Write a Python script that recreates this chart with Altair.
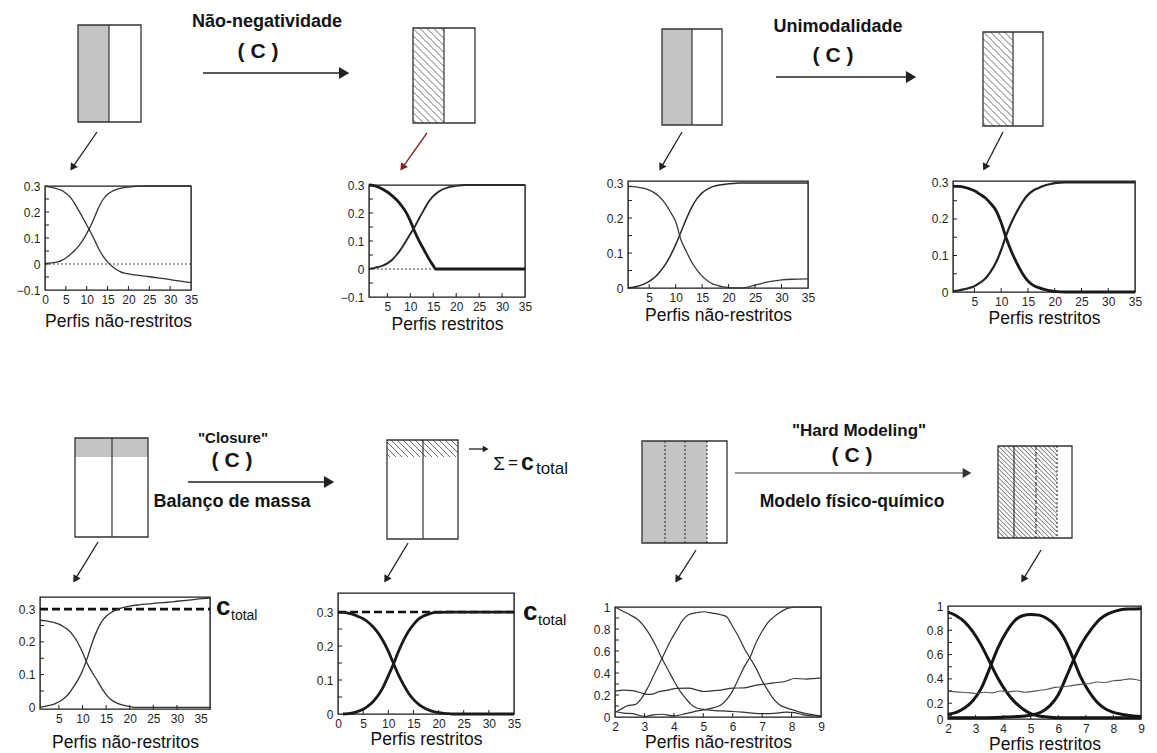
import math
import altair as alt
import pandas as pd

FONT = "Liberation Sans"
INK = "#1f1f1f"

# ------------------------------------------------------------------
# Curve values
# ------------------------------------------------------------------
# Panel 1 - non-negativity, unconstrained
p1_x = [0, 1, 2, 3, 4, 5, 6, 7, 8, 9, 10, 11, 12, 13, 14, 15, 16, 17, 18, 19, 20, 22, 24, 26, 28, 30, 32, 35]
p1_dec = [0.300, 0.297, 0.293, 0.289, 0.283, 0.272, 0.258, 0.235, 0.208, 0.180, 0.150, 0.120, 0.088, 0.055,
          0.028, 0.008, -0.008, -0.020, -0.029, -0.035, -0.038, -0.043, -0.047, -0.051, -0.055, -0.060, -0.065, -0.072]
p1_inc = [0.002, 0.003, 0.005, 0.008, 0.014, 0.023, 0.036, 0.050, 0.068, 0.090, 0.117, 0.148, 0.185, 0.222,
          0.250, 0.268, 0.279, 0.286, 0.291, 0.294, 0.296, 0.299, 0.300, 0.300, 0.300, 0.300, 0.300, 0.300]

# Panel 2 - non-negativity, constrained
p2_x_dec = [1, 2, 3, 4, 5, 6, 7, 8, 9, 10, 11, 12, 13, 14, 15, 15.5, 16, 20, 25, 30, 35]
p2_dec = [0.300, 0.298, 0.293, 0.285, 0.275, 0.262, 0.247, 0.228, 0.205, 0.172, 0.132, 0.098, 0.068, 0.038,
          0.012, 0.0, 0.0, 0.0, 0.0, 0.0, 0.0]
p2_x_inc = [1, 2, 3, 4, 5, 6, 7, 8, 9, 10, 11, 12, 13, 14, 15, 16, 17, 18, 19, 20, 22, 25, 30, 35]
p2_inc = [0.000, 0.003, 0.007, 0.012, 0.020, 0.032, 0.050, 0.072, 0.098, 0.125, 0.152, 0.183, 0.212, 0.240,
          0.260, 0.274, 0.284, 0.290, 0.294, 0.297, 0.300, 0.300, 0.300, 0.300]

# Panel 3 - unimodality, unconstrained
p3_x = [1, 2, 3, 4, 5, 6, 7, 8, 9, 10, 11, 12, 13, 14, 15, 16, 17, 18, 19, 20, 21, 22, 23, 24, 25, 26, 27, 28,
        29, 30, 32, 35]
p3_dec = [0.291, 0.290, 0.288, 0.285, 0.280, 0.272, 0.260, 0.242, 0.218, 0.190, 0.138, 0.105, 0.075, 0.052,
          0.034, 0.021, 0.012, 0.007, 0.003, 0.001, 0.0, 0.0, 0.001, 0.004, 0.008, 0.012, 0.016, 0.019, 0.021,
          0.023, 0.025, 0.026]
p3_inc = [0.000, 0.002, 0.006, 0.011, 0.019, 0.030, 0.046, 0.066, 0.092, 0.124, 0.160, 0.197, 0.230, 0.255,
          0.272, 0.283, 0.290, 0.294, 0.296, 0.298, 0.299, 0.300, 0.300, 0.300, 0.300, 0.300, 0.300, 0.300,
          0.300, 0.300, 0.300, 0.300]

# Panel 4 - unimodality, constrained
p4_x = [1, 2, 3, 4, 5, 6, 7, 8, 9, 10, 11, 12, 13, 14, 15, 16, 17, 18, 19, 20, 22, 25, 30, 35]
p4_dec = [0.290, 0.289, 0.287, 0.283, 0.277, 0.268, 0.258, 0.243, 0.224, 0.190, 0.145, 0.108, 0.077, 0.050,
          0.030, 0.018, 0.012, 0.007, 0.004, 0.002, 0.0, 0.0, 0.0, 0.0]
p4_inc = [0.002, 0.004, 0.007, 0.011, 0.016, 0.025, 0.036, 0.055, 0.080, 0.115, 0.158, 0.193, 0.222, 0.247,
          0.266, 0.278, 0.285, 0.291, 0.295, 0.298, 0.300, 0.300, 0.300, 0.300]

# Panel 5 - closure, unconstrained
p5_x_dec = [1, 2, 3, 4, 5, 6, 7, 8, 9, 10, 11, 12, 13, 14, 15, 16, 17, 18, 19, 20, 21, 25, 30, 35, 37]
p5_dec = [0.266, 0.265, 0.262, 0.259, 0.254, 0.246, 0.236, 0.220, 0.198, 0.168, 0.134, 0.108, 0.085, 0.060,
          0.039, 0.024, 0.015, 0.009, 0.005, 0.002, 0.0, 0.0, 0.0, 0.0, 0.0]
p5_x_inc = [1, 2, 3, 4, 5, 6, 7, 8, 9, 10, 11, 12, 13, 14, 15, 16, 17, 18, 19, 20, 22, 24, 26, 28, 30, 32, 34,
            36, 37]
p5_inc = [0.000, 0.003, 0.006, 0.010, 0.017, 0.026, 0.040, 0.060, 0.083, 0.112, 0.150, 0.195, 0.232, 0.260,
          0.278, 0.289, 0.297, 0.302, 0.306, 0.309, 0.313, 0.316, 0.319, 0.321, 0.324, 0.327, 0.330, 0.333, 0.334]

# Panel 6 - closure, constrained
p6_x_dec = [0, 1, 2, 3, 4, 5, 6, 7, 8, 9, 10, 11, 12, 13, 14, 15, 16, 17, 18, 19, 20, 21, 22, 23, 25, 30, 35]
p6_dec = [0.300, 0.299, 0.297, 0.293, 0.287, 0.280, 0.270, 0.256, 0.238, 0.214, 0.185, 0.150, 0.116, 0.087,
          0.062, 0.043, 0.029, 0.019, 0.012, 0.007, 0.004, 0.002, 0.001, 0.0, 0.0, 0.0, 0.0]
p6_x_inc = [1, 2, 3, 4, 5, 6, 7, 8, 9, 10, 11, 12, 13, 14, 15, 16, 17, 18, 19, 20, 22, 25, 30, 35]
p6_inc = [0.000, 0.001, 0.003, 0.008, 0.014, 0.024, 0.037, 0.055, 0.080, 0.112, 0.146, 0.183, 0.216, 0.243,
          0.263, 0.279, 0.288, 0.294, 0.298, 0.299, 0.300, 0.300, 0.300, 0.300]

# Panel 7 - hard modelling, unconstrained
p7_a_x = [2.0, 2.2, 2.5, 2.8, 3.0, 3.2, 3.4, 3.6, 3.8, 4.0, 4.2, 4.4, 4.6, 4.8, 5.0, 5.3, 5.6, 6.0, 6.5, 7.0,
          7.5, 7.8, 8.1, 8.4, 8.7, 9.0]
p7_a_y = [1.00, 0.97, 0.93, 0.88, 0.82, 0.74, 0.64, 0.53, 0.43, 0.33, 0.24, 0.17, 0.11, 0.08, 0.07, 0.06,
          0.055, 0.05, 0.04, 0.03, 0.035, 0.045, 0.04, 0.02, 0.01, 0.005]
p7_b_x = [2.0, 2.2, 2.4, 2.7, 2.9, 3.1, 3.3, 3.5, 3.7, 3.9, 4.1, 4.3, 4.5, 4.8, 5.0, 5.3, 5.6, 5.8, 6.0, 6.2,
          6.4, 6.6, 6.8, 7.0, 7.2, 7.4, 7.6, 7.8, 8.1, 8.5, 9.0]
p7_b_y = [0.04, 0.07, 0.10, 0.115, 0.17, 0.26, 0.37, 0.48, 0.59, 0.70, 0.79, 0.88, 0.93, 0.95, 0.957, 0.945,
          0.93, 0.91, 0.82, 0.73, 0.62, 0.53, 0.44, 0.33, 0.24, 0.16, 0.11, 0.085, 0.06, 0.03, 0.01]
p7_c_x = [2.0, 2.3, 2.6, 3.0, 3.3, 3.6, 4.0, 4.4, 4.8, 5.2, 5.6, 5.8, 6.0, 6.2, 6.4, 6.6, 6.8, 7.0, 7.2, 7.4,
          7.6, 7.9, 8.2, 8.6, 9.0]
p7_c_y = [0.05, 0.035, 0.03, 0.005, 0.02, 0.025, 0.01, 0.03, 0.055, 0.075, 0.11, 0.16, 0.24, 0.35, 0.46, 0.55,
          0.68, 0.78, 0.86, 0.91, 0.95, 0.99, 1.0, 1.0, 1.0]
p7_d_x = [2.0, 2.3, 2.6, 3.0, 3.2, 3.5, 3.8, 4.1, 4.5, 4.8, 5.0, 5.3, 5.6, 6.0, 6.4, 6.8, 7.1, 7.4, 7.8, 8.1,
          8.5, 9.0]
p7_d_y = [0.235, 0.245, 0.24, 0.21, 0.205, 0.23, 0.245, 0.26, 0.262, 0.245, 0.232, 0.238, 0.245, 0.262, 0.265,
          0.29, 0.30, 0.31, 0.325, 0.35, 0.345, 0.355]

# Panel 8 - hard modelling, constrained
p8_a_x = [2.0, 2.3, 2.6, 2.9, 3.2, 3.5, 3.8, 4.1, 4.4, 4.7, 5.0, 5.3, 5.7, 6.2, 7.0, 8.0, 9.0]
p8_a_y = [0.95, 0.92, 0.87, 0.79, 0.68, 0.545, 0.41, 0.30, 0.215, 0.155, 0.115, 0.095, 0.085, 0.08, 0.08,
          0.08, 0.08]
p8_b_x = [2.0, 2.3, 2.6, 2.9, 3.2, 3.5, 3.8, 4.1, 4.4, 4.7, 5.0, 5.3, 5.6, 5.9, 6.2, 6.5, 6.8, 7.1, 7.4, 7.7,
          8.0, 8.4, 9.0]
p8_b_y = [0.11, 0.125, 0.16, 0.22, 0.32, 0.48, 0.65, 0.78, 0.875, 0.92, 0.93, 0.925, 0.895, 0.84, 0.74, 0.59,
          0.42, 0.30, 0.21, 0.155, 0.125, 0.105, 0.09]
p8_c_x = [2.0, 3.0, 4.0, 4.5, 4.8, 5.1, 5.4, 5.7, 6.0, 6.3, 6.6, 6.9, 7.2, 7.5, 7.8, 8.1, 8.5, 9.0]
p8_c_y = [0.08, 0.08, 0.085, 0.09, 0.095, 0.105, 0.13, 0.18, 0.27, 0.42, 0.58, 0.71, 0.81, 0.89, 0.935, 0.96,
          0.975, 0.978]
p8_d_x = [2.0, 2.2, 2.5, 2.8, 3.0, 3.3, 3.6, 3.9, 4.2, 4.5, 4.8, 5.0, 5.3, 5.6, 5.9, 6.2, 6.5, 6.8, 7.1, 7.4,
          7.7, 8.0, 8.3, 8.6, 8.8, 9.0]
p8_d_y = [0.30, 0.295, 0.29, 0.285, 0.28, 0.29, 0.285, 0.30, 0.295, 0.30, 0.29, 0.295, 0.305, 0.315, 0.33,
          0.335, 0.345, 0.355, 0.36, 0.375, 0.37, 0.385, 0.39, 0.40, 0.395, 0.385]

# reference level (c_total)
c_total = 0.3

# ------------------------------------------------------------------
# Axis tick values / labels
# ------------------------------------------------------------------
xt_0_35 = [0, 5, 10, 15, 20, 25, 30, 35]
xt_5_35 = [5, 10, 15, 20, 25, 30, 35]
xt_2_9 = [2, 3, 4, 5, 6, 7, 8, 9]
yt_neg = [-0.1, 0, 0.1, 0.2, 0.3]
yt_pos = [0, 0.1, 0.2, 0.3]
yt_unit = [0, 0.2, 0.4, 0.6, 0.8, 1]
yt_unit8 = [0.07, 0.2, 0.4, 0.6, 0.8, 1]
in_y_neg = [-0.05, 0, 0.05, 0.1, 0.15, 0.2, 0.25]
in_y_pos = [0.05, 0.1, 0.15, 0.2, 0.25]
in_y_unit = [0.1, 0.2, 0.3, 0.4, 0.5, 0.6, 0.7, 0.8, 0.9]
in_x_35 = [5, 10, 15, 20, 25, 30]
in_x_9 = [3, 4, 5, 6, 7, 8]

TITLE_U = "Perfis não-restritos"
TITLE_C = "Perfis restritos"

# ------------------------------------------------------------------
# Layout (pixels): f = frame top below the row top, L/R = room left/right of frame
# ------------------------------------------------------------------
T_BOX = 6
ROW_TOP_H = 164
ROW_BOT_H = 166

panels_top = [
    dict(L=35, w=146, R=86, f=12, h=104, xdom=[0, 35], ydom=[-0.1, 0.3], xv=xt_0_35, yv=yt_neg,
         title=TITLE_U, tp=7.5, iny=in_y_neg, inx=in_x_35,
         series=[("a", p1_x, p1_dec, 1.3, "#333333"), ("b", p1_x, p1_inc, 1.3, "#333333")],
         dotted=[(0, 35, 0.0)]),
    dict(L=90, w=156, R=62, f=11, h=112, xdom=[1, 35], ydom=[-0.1, 0.3], xv=xt_5_35, yv=yt_neg,
         title=TITLE_C, tp=3.5, iny=in_y_neg, inx=in_x_35,
         series=[("a", p2_x_dec, p2_dec, 2.8, "#1a1a1a"), ("b", p2_x_inc, p2_inc, 1.9, "#2a2a2a")],
         dotted=[(1, 15, 0.0)]),
    dict(L=39, w=180, R=104, f=7, h=107, xdom=[1, 35], ydom=[0, 0.306], xv=xt_5_35, yv=yt_pos,
         title=TITLE_U, tp=3.5, iny=in_y_pos, inx=in_x_35,
         series=[("a", p3_x, p3_dec, 1.3, "#3a3a3a"), ("b", p3_x, p3_inc, 1.5, "#2a2a2a")]),
    dict(L=39, w=182, R=7, f=7, h=111, xdom=[1, 35], ydom=[0, 0.304], xv=xt_5_35, yv=yt_pos,
         title=TITLE_C, tp=2, iny=in_y_pos, inx=in_x_35,
         series=[("a", p4_x, p4_dec, 2.8, "#1a1a1a"), ("b", p4_x, p4_inc, 2.2, "#222222")]),
]

panels_bot = [
    dict(L=30, w=170, R=78, f=11, h=112, xdom=[1, 37], ydom=[-0.005, 0.337], xv=xt_5_35, yv=yt_pos,
         title=TITLE_U, tp=9, iny=in_y_pos, inx=in_x_35,
         series=[("a", p5_x_dec, p5_dec, 1.3, "#333333"), ("b", p5_x_inc, p5_inc, 1.3, "#333333")],
         dashed=[(1, 37, c_total)], ctot=dict(dx_c=6, dx_t=21, dy_c=6, dy_t=11, fc=26, ft=14)),
    dict(L=48, w=176, R=68, f=7, h=121, xdom=[0, 35], ydom=[0, 0.356], xv=xt_0_35, yv=yt_pos,
         title=TITLE_C, tp=1.5, iny=in_y_pos, inx=in_x_35,
         series=[("a", p6_x_dec, p6_dec, 2.8, "#1a1a1a"), ("b", p6_x_inc, p6_inc, 2.8, "#1a1a1a")],
         dashed=[(0, 35, c_total)], ctot=dict(dx_c=9, dx_t=24, dy_c=8, dy_t=13, fc=26, ft=15)),
    dict(L=31, w=206, R=100, f=21, h=110, xdom=[2, 9], ydom=[0, 1], xv=xt_2_9, yv=yt_unit,
         title=TITLE_U, tp=1, iny=in_y_unit, inx=in_x_9,
         series=[("a", p7_a_x, p7_a_y, 1.2, "#333333"), ("b", p7_b_x, p7_b_y, 1.2, "#333333"),
                 ("c", p7_c_x, p7_c_y, 1.2, "#333333"), ("d", p7_d_x, p7_d_y, 1.2, "#333333")]),
    dict(L=25, w=193, R=4, f=20, h=113, xdom=[2, 9], ydom=[0.07, 1], xv=xt_2_9, yv=yt_unit8,
         title=TITLE_C, tp=1, iny=in_y_unit, inx=in_x_9,
         labelExpr="datum.value < 0.1 ? '0' : format(datum.value, '.1~f')",
         series=[("a", p8_a_x, p8_a_y, 3.0, "#151515"), ("b", p8_b_x, p8_b_y, 3.0, "#151515"),
                 ("c", p8_c_x, p8_c_y, 3.0, "#151515"), ("d", p8_d_x, p8_d_y, 1.1, "#555555")]),
]

# ------------------------------------------------------------------
# Schematic diagrams (page pixel coordinates)
# ------------------------------------------------------------------
top_y = (8, 173)
top_boxes = [(78, 25, 141, 122), (413, 28, 475, 123), (662, 29, 722, 125), (983, 32, 1043, 126)]
top_gray = [(78, 25, 109, 122), (662, 29, 692, 125)]
top_hatch = [(413, 28, 444, 123, 7), (983, 32, 1013, 126, 7)]
top_solid = [(109, 25, 109, 122), (444, 28, 444, 123), (692, 29, 692, 125), (1013, 32, 1013, 126)]
top_dotted = []
top_dashed = []
top_arrows = [
    (203, 73, 350, 73, 1.6, "#222222", 140),
    (776, 77, 917, 77, 1.6, "#222222", 140),
    (97, 132, 70, 171, 1.3, "#222222", 70),
    (427, 133, 400, 171, 1.3, "#7a2626", 70),
    (682, 132, 659, 171, 1.3, "#222222", 70),
    (1003, 132, 983, 171, 1.3, "#222222", 70),
]
top_bold = [("Não-negatividade", 267, 27, 18), ("( C )", 258, 58, 21),
            ("Unimodalidade", 838, 32, 18), ("( C )", 833, 62, 21)]
top_norm = []

bot_y = (339, 585)
bot_boxes = [(75, 438, 148, 537), (387, 440, 458, 539), (642, 441, 727, 543), (998, 446, 1072, 538)]
bot_gray = [(75, 438, 148, 457), (642, 441, 707, 543)]
bot_hatch = [(387, 440, 458, 457, 6), (998, 446, 1057, 538, 4.5)]
bot_solid = [(112, 438, 112, 537), (423, 440, 423, 539), (1014, 446, 1014, 538)]
bot_dotted = [(665, 441, 665, 543), (685, 441, 685, 543), (707, 441, 707, 543), (1057, 446, 1057, 538)]
bot_dashed = [(1036, 446, 1036, 538)]
bot_arrows = [
    (188, 482, 335, 482, 1.6, "#222222", 140),
    (735, 473, 972, 473, 1.0, "#333333", 100),
    (469, 449, 489, 449, 1.3, "#222222", 45),
    (98, 542, 73, 583, 1.3, "#222222", 70),
    (408, 543, 384, 583, 1.3, "#222222", 70),
    (696, 550, 675, 583, 1.3, "#222222", 70),
    (1041, 550, 1021, 583, 1.3, "#222222", 70),
]
bot_bold = [('"Closure"', 233, 443, 15), ("( C )", 232, 467, 21), ("Balanço de massa", 232, 507, 18),
            ('"Hard Modeling"', 859, 436, 17), ("( C )", 852, 462, 21),
            ("Modelo físico-químico", 852, 507, 17.5), ("c", 527.5, 470, 23)]
bot_norm = [("Σ", 499, 470, 19), ("=", 513, 468, 17), ("total", 552, 474, 17)]

PAGE_X = (8, 1149)
NO_FRAME = alt.ViewBackground(stroke="transparent", strokeWidth=0)


# ------------------------------------------------------------------
def hatch_lines(x0, y0, x1, y1, step):
    out = []
    c = x0 - y1 + step / 2.0
    while c < x1 - y0:
        ya = max(y0, x0 - c)
        yb = min(y1, x1 - c)
        if yb > ya:
            out.append({"x": c + ya, "y": ya, "x2": c + yb, "y2": yb, "w": 0.8, "c": "#444444"})
        c += step
    return out


def arrow_parts(arrows):
    segs, heads = [], []
    for (x0, y0, x1, y1, w, col, hs) in arrows:
        dx, dy = x1 - x0, y1 - y0
        ln = math.hypot(dx, dy)
        ux, uy = dx / ln, dy / ln
        s = math.sqrt(hs) / 2.0
        hx, hy = x1 - s * ux, y1 - s * uy
        segs.append({"x": x0, "y": y0, "x2": hx, "y2": hy, "w": w, "c": col})
        heads.append({"x": hx, "y": hy, "a": math.degrees(math.atan2(dy, dx)) % 360, "s": hs, "c": col})
    return segs, heads


def spacer(wd, ht):
    return (alt.Chart(pd.DataFrame({"k": [0]}))
            .mark_rect(fill="transparent")
            .encode(x=alt.value(0), x2=alt.value(wd), y=alt.value(0), y2=alt.value(ht))
            .properties(width=wd, height=ht, view=NO_FRAME))


def diagram(yr, boxes, grays, hatches, solid, dotted, dashed, arrows, bold, norm):
    xs = alt.Scale(domain=list(PAGE_X), nice=False, zero=False)
    ys = alt.Scale(domain=list(yr), nice=False, zero=False, reverse=True)
    X = alt.X("x:Q", scale=xs, axis=None)
    Y = alt.Y("y:Q", scale=ys, axis=None)

    def rect_df(rs):
        return pd.DataFrame([{"x": r[0], "y": r[1], "x2": r[2], "y2": r[3]} for r in rs])

    def rule_df(rs, w=1.2, col="#333333"):
        return pd.DataFrame([{"x": r[0], "y": r[1], "x2": r[2], "y2": r[3], "w": w, "c": col} for r in rs])

    def rules(df, **kw):
        return alt.Chart(df).mark_rule(strokeCap="butt", **kw).encode(
            x=X, y=Y, x2="x2:Q", y2="y2:Q",
            color=alt.Color("c:N", scale=None),
            strokeWidth=alt.StrokeWidth("w:Q", scale=None))

    layers = [
        alt.Chart(rect_df(boxes)).mark_rect(fill="white").encode(x=X, y=Y, x2="x2:Q", y2="y2:Q"),
        alt.Chart(rect_df(grays)).mark_rect(fill="#c4c4c4").encode(x=X, y=Y, x2="x2:Q", y2="y2:Q"),
    ]
    hl = []
    for (x0, y0, x1, y1, st) in hatches:
        hl += hatch_lines(x0, y0, x1, y1, st)
    if hl:
        layers.append(rules(pd.DataFrame(hl)))
    if solid:
        layers.append(rules(rule_df(solid)))
    if dotted:
        layers.append(rules(rule_df(dotted, 1.1), strokeDash=[2, 2]))
    if dashed:
        layers.append(rules(rule_df(dashed, 1.1), strokeDash=[4, 2]))
    layers.append(alt.Chart(rect_df(boxes)).mark_rect(fillOpacity=0, stroke="#333333", strokeWidth=1.3)
                  .encode(x=X, y=Y, x2="x2:Q", y2="y2:Q"))
    segs, heads = arrow_parts(arrows)
    layers.append(rules(pd.DataFrame(segs)))
    layers.append(alt.Chart(pd.DataFrame(heads)).mark_point(shape="triangle-right", filled=True, opacity=1)
                  .encode(x=X, y=Y, angle=alt.Angle("a:Q", scale=None),
                          size=alt.Size("s:Q", scale=None), color=alt.Color("c:N", scale=None)))
    if bold:
        df = pd.DataFrame([{"t": t, "x": x, "y": y, "fs": f} for (t, x, y, f) in bold])
        layers.append(alt.Chart(df).mark_text(font=FONT, fontWeight="bold", align="center",
                                              baseline="alphabetic", color="#141414")
                      .encode(x=X, y=Y, text="t:N", size=alt.Size("fs:Q", scale=None)))
    if norm:
        df = pd.DataFrame([{"t": t, "x": x, "y": y, "fs": f} for (t, x, y, f) in norm])
        layers.append(alt.Chart(df).mark_text(font=FONT, fontWeight="normal", align="center",
                                              baseline="alphabetic", color="#141414")
                      .encode(x=X, y=Y, text="t:N", size=alt.Size("fs:Q", scale=None)))
    return alt.layer(*layers).properties(width=PAGE_X[1] - PAGE_X[0], height=yr[1] - yr[0], view=NO_FRAME)


def plot_panel(cfg, row_h):
    w, h = cfg["w"], cfg["h"]
    xs = alt.Scale(domain=cfg["xdom"], nice=False, zero=False)
    ys = alt.Scale(domain=cfg["ydom"], nice=False, zero=False)
    xax = alt.Axis(title=cfg["title"], values=cfg["xv"], ticks=False, tickSize=0, domain=False, grid=False,
                   labelFlush=False, labelOverlap=False, labelPadding=4, labelFontSize=12, labelColor=INK,
                   titleFontSize=17.5, titleFontWeight="normal", titleColor="#111111", titlePadding=cfg["tp"],
                   minExtent=0)
    ykw = dict(title=None, values=cfg["yv"], ticks=False, tickSize=0, domain=False, grid=False,
               labelOverlap=False, labelPadding=5, labelFontSize=12, labelColor=INK, minExtent=0)
    if "labelExpr" in cfg:
        ykw["labelExpr"] = cfg["labelExpr"]
    else:
        ykw["format"] = ".1~f"
    yax = alt.Axis(**ykw)

    def X(f):
        return alt.X(f, type="quantitative", scale=xs, axis=xax)

    def Y(f):
        return alt.Y(f, type="quantitative", scale=ys, axis=yax)

    one = pd.DataFrame({"k": [0]})
    layers = [alt.Chart(one).mark_rect(fill="transparent").encode(
        x=alt.value(-cfg["L"]), x2=alt.value(w + cfg["R"]),
        y=alt.value(-T_BOX), y2=alt.value(row_h - cfg["f"]))]

    for key, dash, sw, col in (("dotted", [2, 2], 1.2, "#444444"), ("dashed", [8, 4], 2.6, "#111111")):
        if key in cfg:
            df = pd.DataFrame([{"x": a, "x2": b, "y": v} for (a, b, v) in cfg[key]])
            layers.append(alt.Chart(df).mark_rule(strokeDash=dash, strokeWidth=sw, color=col)
                          .encode(x=X("x"), x2="x2:Q", y=Y("y")))

    rows = []
    for (name, xv, yv, sw, col) in cfg["series"]:
        for a, b in zip(xv, yv):
            rows.append({"x": a, "y": b, "s": name, "w": sw, "c": col})
    layers.append(alt.Chart(pd.DataFrame(rows)).mark_line(interpolate="monotone").encode(
        x=X("x"), y=Y("y"), detail="s:N",
        strokeWidth=alt.StrokeWidth("w:Q", scale=None), color=alt.Color("c:N", scale=None)))

    layers.append(alt.Chart(pd.DataFrame({"v": cfg["iny"]})).mark_rule(color=INK, strokeWidth=1)
                  .encode(y=Y("v"), x=alt.value(0), x2=alt.value(4)))
    layers.append(alt.Chart(pd.DataFrame({"v": cfg["inx"]})).mark_rule(color=INK, strokeWidth=1)
                  .encode(x=X("v"), y=alt.value(h), y2=alt.value(h - 4)))

    if "ctot" in cfg:
        ct = cfg["ctot"]
        cdf = pd.DataFrame({"y": [c_total], "t1": ["c"], "t2": ["total"]})
        layers.append(alt.Chart(cdf).mark_text(font=FONT, fontWeight="bold", fontSize=ct["fc"], align="left",
                                               baseline="alphabetic", dy=ct["dy_c"], color="#111111")
                      .encode(x=alt.value(w + ct["dx_c"]), y=Y("y"), text="t1:N"))
        layers.append(alt.Chart(cdf).mark_text(font=FONT, fontSize=ct["ft"], align="left",
                                               baseline="alphabetic", dy=ct["dy_t"], color="#111111")
                      .encode(x=alt.value(w + ct["dx_t"]), y=Y("y"), text="t2:N"))

    return alt.layer(*layers).properties(width=w, height=h,
                                         view=alt.ViewBackground(stroke="#1a1a1a", strokeWidth=1.4))


def make_row(cfgs, row_h):
    cols = [spacer(1, 1)]
    for c in cfgs:
        cols.append(alt.vconcat(spacer(1, c["f"] - T_BOX), plot_panel(c, row_h), spacing=0))
    return alt.hconcat(*cols, spacing=0)


top_diag = diagram(top_y, top_boxes, top_gray, top_hatch, top_solid, top_dotted, top_dashed,
                   top_arrows, top_bold, top_norm)
bot_diag = diagram(bot_y, bot_boxes, bot_gray, bot_hatch, bot_solid, bot_dotted, bot_dashed,
                   bot_arrows, bot_bold, bot_norm)
top_row = make_row(panels_top, ROW_TOP_H)
bot_row = make_row(panels_bot, ROW_BOT_H)

chart = (alt.vconcat(top_diag, top_row, bot_diag, bot_row, spacing=0)
         .properties(padding=0)
         .configure(font=FONT)
         .configure_view(stroke="transparent", strokeWidth=0))

chart.save("out.html", embed_options={"renderer": "svg", "actions": False})
